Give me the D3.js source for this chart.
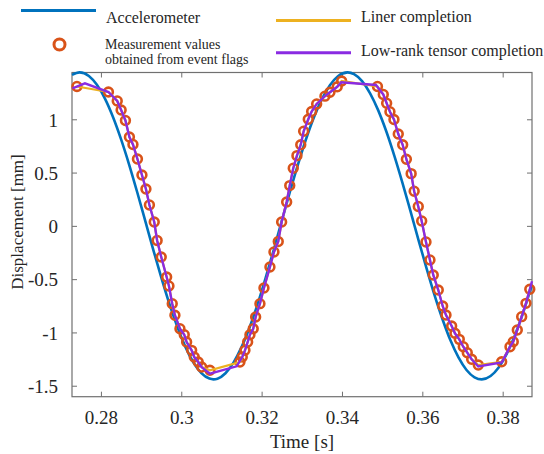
<!DOCTYPE html>
<html>
<head>
<meta charset="utf-8">
<script src="https://cdn.jsdelivr.net/npm/d3@7"></script>
<style>
	body { margin: 0; background: #fff; }
	svg { display: block; }
	svg text { font-family: "Liberation Serif", "Times New Roman", Times, "DejaVu Serif", serif !important; fill: #262626; }
</style>
</head>
<body>
<svg id="chart" width="544" height="454" font-family="Liberation Serif, Times New Roman, serif"></svg>
<script>
// accelerometer reference signal
const accelTime = [0.2728, 0.2747, 0.2770, 0.2790, 0.2810, 0.2830, 0.2850, 0.2870, 0.2890, 0.2910,
	0.2930, 0.2950, 0.2970, 0.2990, 0.3010, 0.3030, 0.3050, 0.3070, 0.3080, 0.3090,
	0.3110, 0.3130, 0.3150, 0.3170, 0.3190, 0.3210, 0.3230, 0.3250, 0.3270, 0.3290,
	0.3310, 0.3330, 0.3350, 0.3370, 0.3390, 0.3414, 0.3430, 0.3450, 0.3470, 0.3490,
	0.3510, 0.3530, 0.3550, 0.3570, 0.3590, 0.3610, 0.3630, 0.3650, 0.3670, 0.3690,
	0.3710, 0.3730, 0.3748, 0.3770, 0.3790, 0.3810, 0.3830, 0.3850, 0.3873];
const accelDisp = [1.417, 1.440, 1.406, 1.323, 1.194, 1.022, 0.814, 0.578, 0.320, 0.051,
	-0.220, -0.482, -0.727, -0.945, -1.133, -1.280, -1.382, -1.433, -1.440, -1.434,
	-1.383, -1.283, -1.138, -0.953, -0.735, -0.488, -0.227, 0.044, 0.313, 0.570,
	0.808, 1.017, 1.189, 1.320, 1.404, 1.440, 1.424, 1.358, 1.244, 1.086,
	0.890, 0.662, 0.411, 0.145, -0.126, -0.392, -0.645, -0.874, -1.074, -1.234,
	-1.352, -1.421, -1.440, -1.409, -1.329, -1.201, -1.031, -0.825, -0.552];

// measurement values obtained from event flags (also the liner completion nodes)
const measTime = [0.27403, 0.28187, 0.28406, 0.28503, 0.28610, 0.28709, 0.28797, 0.28909, 0.29021, 0.29120,
	0.29207, 0.29327, 0.29399, 0.29501, 0.29636, 0.29693, 0.29775, 0.29842, 0.29967, 0.30074,
	0.30133, 0.30258, 0.30323, 0.30422, 0.30507, 0.30713,
	0.31460, 0.31518, 0.31585, 0.31652, 0.31709, 0.31791, 0.31851, 0.31958, 0.32058, 0.32207,
	0.32307, 0.32414, 0.32498, 0.32623, 0.32700, 0.32787, 0.32879, 0.32974, 0.33046, 0.33161,
	0.33245, 0.33370, 0.33576, 0.33701, 0.33882, 0.33992,
	0.34883, 0.35028, 0.35112, 0.35194, 0.35294, 0.35401, 0.35511, 0.35603, 0.35722, 0.35797,
	0.35899, 0.35984, 0.36091, 0.36190, 0.36272, 0.36397, 0.36506, 0.36589, 0.36730, 0.36812,
	0.36920, 0.37019, 0.37119, 0.37228, 0.37393,
	0.37975, 0.38182, 0.38264, 0.38364, 0.38473, 0.38580, 0.38675];
const measDisp = [1.308, 1.256, 1.172, 1.087, 0.989, 0.834, 0.764, 0.627, 0.477, 0.346,
	0.196, 0.036, -0.137, -0.292, -0.480, -0.564, -0.730, -0.839, -0.965, -1.021,
	-1.090, -1.168, -1.231, -1.278, -1.325, -1.355,
	-1.278, -1.231, -1.168, -1.090, -1.021, -0.965, -0.855, -0.730, -0.583, -0.386,
	-0.245, -0.147, 0.036, 0.224, 0.378, 0.541, 0.659, 0.761, 0.888, 1.000,
	1.073, 1.144, 1.217, 1.253, 1.305, 1.359,
	1.308, 1.233, 1.151, 1.071, 0.998, 0.862, 0.761, 0.625, 0.490, 0.325,
	0.182, 0.046, -0.151, -0.320, -0.461, -0.602, -0.752, -0.837, -0.940, -1.008,
	-1.065, -1.134, -1.190, -1.252, -1.306,
	-1.275, -1.134, -1.087, -0.977, -0.852, -0.727, -0.595];

// low-rank tensor completion
const lowRankTime = [0.27291, 0.27602, 0.28187, 0.28406, 0.28503, 0.28610, 0.28709, 0.28797, 0.28909, 0.29021,
	0.29120, 0.29207, 0.29327, 0.29399, 0.29501, 0.29636, 0.29693, 0.29775, 0.29842, 0.29967,
	0.30074, 0.30133, 0.30258, 0.30323, 0.30422, 0.30507, 0.30713, 0.31378,
	0.31518, 0.31585, 0.31652, 0.31709, 0.31791, 0.31851, 0.31958, 0.32058, 0.32207, 0.32307,
	0.32414, 0.32498, 0.32623, 0.32700, 0.32787, 0.32879, 0.32974, 0.33046, 0.33161, 0.33245,
	0.33370, 0.33576, 0.33701, 0.33882, 0.33982, 0.34846,
	0.35028, 0.35112, 0.35194, 0.35294, 0.35401, 0.35511, 0.35603, 0.35722, 0.35797, 0.35899,
	0.35984, 0.36091, 0.36190, 0.36272, 0.36397, 0.36506, 0.36589, 0.36730, 0.36812, 0.36920,
	0.37019, 0.37119, 0.37228, 0.37393, 0.37975,
	0.38182, 0.38264, 0.38364, 0.38473, 0.38580, 0.38675, 0.38730];
const lowRankDisp = [1.291, 1.338, 1.256, 1.172, 1.087, 0.989, 0.834, 0.764, 0.627, 0.477,
	0.346, 0.196, 0.036, -0.137, -0.292, -0.480, -0.564, -0.730, -0.839, -0.965,
	-1.021, -1.090, -1.168, -1.231, -1.278, -1.325, -1.386, -1.318,
	-1.231, -1.168, -1.090, -1.021, -0.965, -0.855, -0.730, -0.583, -0.386, -0.245,
	-0.147, 0.036, 0.224, 0.378, 0.541, 0.659, 0.761, 0.888, 1.000, 1.073,
	1.144, 1.217, 1.253, 1.305, 1.348, 1.322,
	1.233, 1.151, 1.071, 0.998, 0.862, 0.761, 0.625, 0.490, 0.325, 0.182,
	0.046, -0.151, -0.320, -0.461, -0.602, -0.752, -0.837, -0.940, -1.008, -1.065,
	-1.134, -1.190, -1.252, -1.320, -1.282,
	-1.134, -1.087, -0.977, -0.852, -0.727, -0.595, -0.520];

const xTicks = [0.28, 0.30, 0.32, 0.34, 0.36, 0.38];
const yTicks = [-1.5, -1, -0.5, 0, 0.5, 1];

const colors = {
	accel: "#0072BD",
	meas: "#D95319",
	liner: "#EDB120",
	lowRank: "#8A2BE2",
	axis: "#707070"
};

const serif = "'Liberation Serif', 'Times New Roman', serif";
const box = { left: 72, right: 532, top: 72.5, bottom: 396.7 };

const svg = d3.select("#chart");

const x = d3.scaleLinear()
	.domain([0.2728, 0.3873])
	.range([box.left, box.right]);

const y = d3.scaleLinear()
	.domain([-1.603, 1.439])
	.range([box.bottom, box.top]);

const zip = (ts, vs) => ts.map((t, i) => ({ t: t, v: vs[i] }));

const accelData = zip(accelTime, accelDisp);
const measData = zip(measTime, measDisp);
const lowRankData = zip(lowRankTime, lowRankDisp);

// axes: inward ticks on every side, box closed
const tickLen = 5;
const axisGroup = svg.append("g").attr("class", "axes");

function styleAxis(g) {
	g.attr("font-family", serif);
	g.select(".domain").remove();
	g.selectAll(".tick line").attr("stroke", colors.axis).attr("stroke-width", 1);
	g.selectAll(".tick text").attr("fill", "#262626");
}

axisGroup.append("g")
	.attr("transform", `translate(0,${box.bottom})`)
	.call(d3.axisBottom(x).tickValues(xTicks).tickSizeInner(-tickLen).tickSizeOuter(0)
		.tickPadding(14).tickFormat(d3.format(".2~f")))
	.call(styleAxis)
	.call(g => g.selectAll(".tick text")
		.style("font-size", "19px")
		.style("font-family", serif));

axisGroup.append("g")
	.attr("transform", `translate(0,${box.top})`)
	.call(d3.axisTop(x).tickValues(xTicks).tickSizeInner(-tickLen).tickSizeOuter(0).tickFormat(""))
	.call(styleAxis);

axisGroup.append("g")
	.attr("transform", `translate(${box.left},0)`)
	.call(d3.axisLeft(y).tickValues(yTicks).tickSizeInner(-tickLen).tickSizeOuter(0)
		.tickPadding(14).tickFormat(d => String(d)))
	.call(styleAxis)
	.call(g => g.selectAll(".tick text")
		.attr("dy", "0.36em")
		.style("font-size", "19px")
		.style("font-family", serif));

axisGroup.append("g")
	.attr("transform", `translate(${box.right},0)`)
	.call(d3.axisRight(y).tickValues(yTicks).tickSizeInner(-tickLen).tickSizeOuter(0).tickFormat(""))
	.call(styleAxis);

axisGroup.append("rect")
	.attr("x", box.left)
	.attr("y", box.top)
	.attr("width", box.right - box.left)
	.attr("height", box.bottom - box.top)
	.attr("fill", "none")
	.attr("stroke", colors.axis)
	.attr("stroke-width", 1.2);

// axis labels
svg.append("text")
	.attr("x", (box.left + box.right) / 2)
	.attr("y", 448)
	.attr("text-anchor", "middle")
	.style("font-family", serif)
	.style("font-size", "19px")
	.text("Time [s]");

svg.append("text")
	.attr("transform", "translate(23,222) rotate(-90)")
	.attr("text-anchor", "middle")
	.style("font-family", serif)
	.style("font-size", "17px")
	.text("Displacement [mm]");

// series
const lineGen = d3.line()
	.x(d => x(d.t))
	.y(d => y(d.v));

const plot = svg.append("g").attr("class", "plot");

plot.append("path")
	.datum(accelData)
	.attr("fill", "none")
	.attr("stroke", colors.accel)
	.attr("stroke-width", 2.6)
	.attr("d", lineGen.curve(d3.curveMonotoneX));

plot.append("g")
	.selectAll("circle")
	.data(measData)
	.join("circle")
	.attr("cx", d => x(d.t))
	.attr("cy", d => y(d.v))
	.attr("r", 4.4)
	.attr("fill", "none")
	.attr("stroke", colors.meas)
	.attr("stroke-width", 2.6);

plot.append("path")
	.datum(measData)
	.attr("fill", "none")
	.attr("stroke", colors.liner)
	.attr("stroke-width", 2.2)
	.attr("d", lineGen.curve(d3.curveLinear));

plot.append("path")
	.datum(lowRankData)
	.attr("fill", "none")
	.attr("stroke", colors.lowRank)
	.attr("stroke-width", 2.4)
	.attr("d", lineGen.curve(d3.curveLinear));

// legend
const legend = svg.append("g").attr("class", "legend");

legend.append("line")
	.attr("x1", 21).attr("x2", 96).attr("y1", 10.5).attr("y2", 10.5)
	.attr("stroke", colors.accel).attr("stroke-width", 3);
legend.append("text")
	.attr("x", 106).attr("y", 22.5)
	.style("font-family", serif)
	.style("font-size", "16px")
	.text("Accelerometer");

legend.append("circle")
	.attr("cx", 59.5).attr("cy", 44.5).attr("r", 5.5)
	.attr("fill", "none").attr("stroke", colors.meas).attr("stroke-width", 3);
legend.append("text")
	.attr("x", 105).attr("y", 48.5)
	.style("font-family", serif)
	.style("font-size", "14px")
	.text("Measurement values");
legend.append("text")
	.attr("x", 105).attr("y", 64)
	.style("font-family", serif)
	.style("font-size", "14px")
	.text("obtained from event flags");

legend.append("line")
	.attr("x1", 276).attr("x2", 351).attr("y1", 20.5).attr("y2", 20.5)
	.attr("stroke", colors.liner).attr("stroke-width", 3);
legend.append("text")
	.attr("x", 361).attr("y", 21.5)
	.style("font-family", serif)
	.style("font-size", "16px")
	.text("Liner completion");

legend.append("line")
	.attr("x1", 276).attr("x2", 351).attr("y1", 52.8).attr("y2", 52.8)
	.attr("stroke", colors.lowRank).attr("stroke-width", 3);
legend.append("text")
	.attr("x", 361).attr("y", 56)
	.style("font-family", serif)
	.style("font-size", "16px")
	.text("Low-rank tensor completion");
</script>
</body>
</html>
